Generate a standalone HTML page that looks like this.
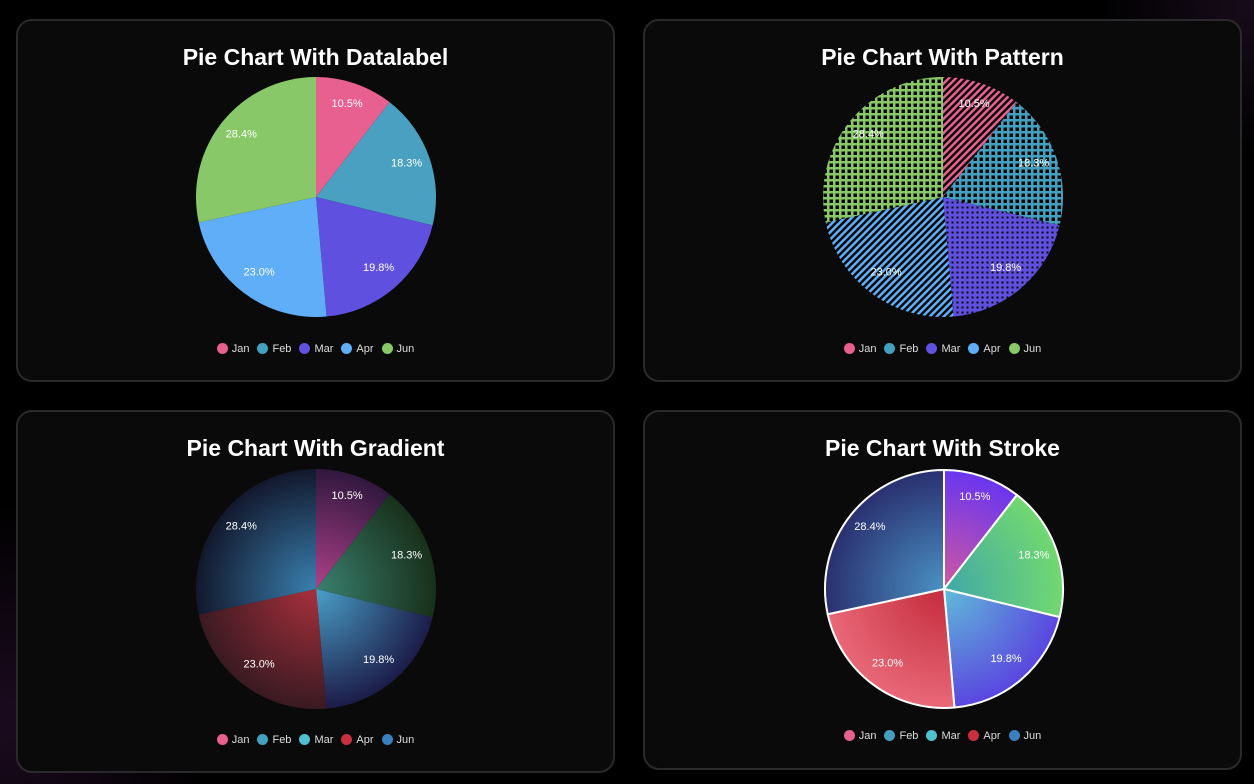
<!DOCTYPE html>
<html><head><meta charset="utf-8"><style>
html,body{margin:0;padding:0;width:1254px;height:784px;overflow:hidden;background:#000;font-family:"Liberation Sans",sans-serif}
.bg{position:absolute;inset:0;background:radial-gradient(circle at 0px 720px,rgba(80,30,90,0.35),rgba(0,0,0,0) 220px),radial-gradient(circle at 1254px 0px,rgba(80,40,90,0.3),rgba(0,0,0,0) 160px)}
.card{position:absolute;background:#0a0a0a;border:2px solid #2a2a2c;border-radius:16px;box-sizing:border-box}
.title{position:absolute;left:0;right:0;text-align:center;color:#fff;font-weight:bold;font-size:23px}
.legend{position:absolute;left:0;right:0;text-align:center;color:#ddd;font-size:11px}
.legend span{display:inline-block;margin:0 4px}
.legend i{display:inline-block;width:11px;height:11px;border-radius:50%;vertical-align:-2px;margin-right:4px}
svg{position:absolute;left:0;top:0}
</style></head><body>
<div class="bg"></div>
<div class="card" style="left:16px;top:19px;width:599px;height:363px"><div class="title" style="top:23px">Pie Chart With Datalabel</div>
<div class="legend" style="top:322px"><span><i style="background:#e8608f"></i>Jan</span><span><i style="background:#45a0c0"></i>Feb</span><span><i style="background:#6050e0"></i>Mar</span><span><i style="background:#60aef8"></i>Apr</span><span><i style="background:#88c868"></i>Jun</span></div></div>
<div class="card" style="left:643px;top:19px;width:599px;height:363px"><div class="title" style="top:23px">Pie Chart With Pattern</div>
<div class="legend" style="top:322px"><span><i style="background:#e8608f"></i>Jan</span><span><i style="background:#45a0c0"></i>Feb</span><span><i style="background:#6050e0"></i>Mar</span><span><i style="background:#60aef8"></i>Apr</span><span><i style="background:#88c868"></i>Jun</span></div></div>
<div class="card" style="left:16px;top:410px;width:599px;height:363px"><div class="title" style="top:23px">Pie Chart With Gradient</div>
<div class="legend" style="top:322px"><span><i style="background:#e8608f"></i>Jan</span><span><i style="background:#45a0c0"></i>Feb</span><span><i style="background:#50c0d0"></i>Mar</span><span><i style="background:#c83040"></i>Apr</span><span><i style="background:#3a80c0"></i>Jun</span></div></div>
<div class="card" style="left:643px;top:410px;width:599px;height:360px"><div class="title" style="top:23px">Pie Chart With Stroke</div>
<div class="legend" style="top:318px"><span><i style="background:#e8608f"></i>Jan</span><span><i style="background:#45a0c0"></i>Feb</span><span><i style="background:#50c0d0"></i>Mar</span><span><i style="background:#c83040"></i>Apr</span><span><i style="background:#3a80c0"></i>Jun</span></div></div>
<svg id="s" width="1254" height="784" xmlns="http://www.w3.org/2000/svg">
<defs>
<pattern id="pJan" width="5" height="5" patternUnits="userSpaceOnUse" patternTransform="rotate(45)"><rect width="5" height="5" fill="#0a0a0a"/><rect width="2.5" height="5" fill="#e8608f"/></pattern>
<pattern id="pApr" width="5" height="5" patternUnits="userSpaceOnUse" patternTransform="rotate(45)"><rect width="5" height="5" fill="#0a0a0a"/><rect width="2.5" height="5" fill="#60aef8"/></pattern>
<pattern id="pFeb" width="6" height="6" patternUnits="userSpaceOnUse"><rect width="6" height="6" fill="#45a0c0"/><rect x="1.5" y="1.5" width="3.5" height="3.5" fill="#0a0a0a"/></pattern>
<pattern id="pJun" width="6" height="6" patternUnits="userSpaceOnUse"><rect width="6" height="6" fill="#88c868"/><rect x="1.5" y="1.5" width="3.5" height="3.5" fill="#0a0a0a"/></pattern>
<pattern id="pMar" width="5" height="5" patternUnits="userSpaceOnUse"><rect width="5" height="5" fill="#6050e0"/><rect x="1.5" y="1.5" width="2" height="2" fill="#0a0a0a"/></pattern>
</defs>
<g id="g"></g>
</svg>
<script>
var v=[10.5,18.3,19.8,23.0,28.4];
var NS="http://www.w3.org/2000/svg";
var defs=document.querySelector("defs"),g=document.getElementById("g");
function rg(id,cx,cy,r,c0,c1){var e=document.createElementNS(NS,"radialGradient");e.setAttribute("id",id);e.setAttribute("gradientUnits","userSpaceOnUse");e.setAttribute("cx",cx);e.setAttribute("cy",cy);e.setAttribute("r",r);e.innerHTML='<stop offset="0" stop-color="'+c0+'"/><stop offset="1" stop-color="'+c1+'"/>';defs.appendChild(e);}
var G3=[["#b0408a","#30183e"],["#3a8070","#18301a"],["#4aa0c8","#1c1c48"],["#a8303c","#3a1a22"],["#3a80b0","#12182c"]];
var G4=[["#d05aa0","#6a35f0"],["#40a8a8","#72d870"],["#60bcd8","#5a46e0"],["#c42c3c","#e86878"],["#4a92c4","#2a3070"]];
G3.forEach(function(c,i){rg("g3"+i,316,589,120,c[0],c[1]);});
G4.forEach(function(c,i){rg("g4"+i,944,589,119,c[0],c[1]);});
function pie(cx,cy,r,fills,stroke){
 var a=0;
 v.forEach(function(x,i){
  var a0=a,a1=a+x/100*2*Math.PI;a=a1;
  var x0=cx+r*Math.sin(a0),y0=cy-r*Math.cos(a0),x1=cx+r*Math.sin(a1),y1=cy-r*Math.cos(a1);
  var p=document.createElementNS(NS,"path");
  p.setAttribute("d","M"+cx+","+cy+"L"+x0+","+y0+"A"+r+","+r+" 0 "+((a1-a0)>Math.PI?1:0)+" 1 "+x1+","+y1+"Z");
  p.setAttribute("fill",fills[i]);
  if(stroke){p.setAttribute("stroke","#fff");p.setAttribute("stroke-width","2");p.setAttribute("stroke-linejoin","round");}
  g.appendChild(p);
 });
 a=0;
 v.forEach(function(x,i){
  var m=a+x/100*Math.PI;a+=x/100*2*Math.PI;
  var t=document.createElementNS(NS,"text");
  t.setAttribute("x",cx+0.8*r*Math.sin(m));t.setAttribute("y",cy-0.8*r*Math.cos(m)+1);
  t.setAttribute("text-anchor","middle");t.setAttribute("fill","#fff");t.setAttribute("font-size","11");
  t.setAttribute("font-family","Liberation Sans, sans-serif");t.textContent=x.toFixed(1)+"%";
  g.appendChild(t);
 });
}
pie(316,197,120,["#e8608f","#4aa0c0","#6050e0","#60aef8","#88c868"]);
pie(943,197,120,["url(#pJan)","url(#pFeb)","url(#pMar)","url(#pApr)","url(#pJun)"]);
pie(316,589,120,[0,1,2,3,4].map(function(i){return "url(#g3"+i+")"}));
pie(944,589,119,[0,1,2,3,4].map(function(i){return "url(#g4"+i+")"}),true);
</script>
</body></html>
